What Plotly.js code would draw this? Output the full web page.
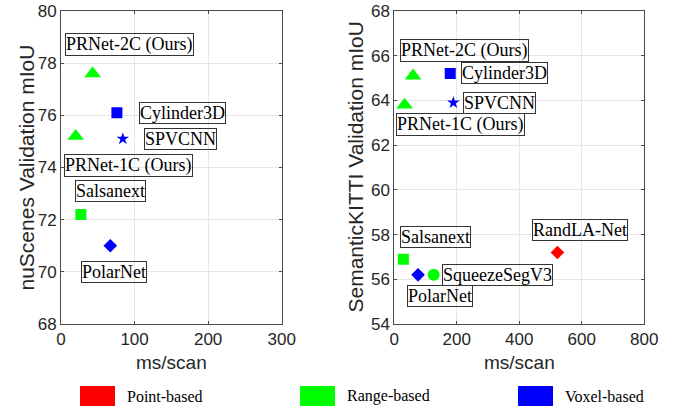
<!DOCTYPE html>
<html><head><meta charset="utf-8">
<script src="https://cdn.plot.ly/plotly-3.0.1.min.js"></script>
<style>html,body{margin:0;padding:0;background:#fff}#chart{width:674px;height:406px}</style>
</head><body><div id="chart"></div>
<script>
// ---- data ----
const categories = ['Point-based', 'Range-based', 'Voxel-based'];

const nusMethods = ['PRNet-2C (Ours)', 'Cylinder3D', 'PRNet-1C (Ours)', 'SPVCNN', 'Salsanext', 'PolarNet'];
const nusMs      = [43, 76, 20, 84, 27, 67];
const nusMiou    = [77.6, 76.1, 75.2, 75.1, 72.2, 71.0];
const nusCat     = ['Range-based', 'Voxel-based', 'Range-based', 'Voxel-based', 'Range-based', 'Voxel-based'];

const kitMethods = ['PRNet-2C (Ours)', 'Cylinder3D', 'PRNet-1C (Ours)', 'SPVCNN', 'Salsanext', 'PolarNet', 'SqueezeSegV3', 'RandLA-Net'];
const kitMs      = [60, 179, 33, 189, 29, 76, 126, 522];
const kitMiou    = [65.1, 65.2, 63.8, 63.9, 56.9, 56.2, 56.2, 57.2];
const kitCat     = ['Range-based', 'Voxel-based', 'Range-based', 'Voxel-based', 'Range-based', 'Voxel-based', 'Range-based', 'Point-based'];

const nusXTicks = [0, 100, 200, 300];
const nusYTicks = [68, 70, 72, 74, 76, 78, 80];
const kitXTicks = [0, 200, 400, 600, 800];
const kitYTicks = [54, 56, 58, 60, 62, 64, 66, 68];

// ---- styles (not data) ----
const catColor = {'Point-based': '#ff0000', 'Range-based': '#00ff00', 'Voxel-based': '#0000ff'};
const methodSymbol = {
  'PRNet-2C (Ours)': 'triangle-up', 'PRNet-1C (Ours)': 'triangle-up',
  'Cylinder3D': 'square', 'Salsanext': 'square', 'SPVCNN': 'star',
  'PolarNet': 'diamond', 'RandLA-Net': 'diamond', 'SqueezeSegV3': 'circle'
};
const symbolSize = {'triangle-up': 14.5, 'square': 11, 'star': 9.5, 'diamond': 10.5, 'circle': 12};
// label offsets in pixels (dx right, dy up) from each point
const nusLabelDx = [37, 66, 53, 58, 30, 4];
const nusLabelDy = [29, 0, -29, 0, 23, -26];
const kitLabelDx = [51, 54, 56, 46, 32, 22, 64, 23];
const kitLabelDy = [25, 1, -20, 0, 22, -21, 0, 22];

const W = 674, H = 406;
const tickFont = {family: 'Liberation Sans, Arial, sans-serif', size: 17, color: '#262626'};
const serif = 'Liberation Serif, Times New Roman, serif';

function makeTrace(methods, xs, ys, cats, xa, ya) {
  const syms = methods.map(m => methodSymbol[m]);
  return {
    type: 'scatter', mode: 'markers', x: xs, y: ys, xaxis: xa, yaxis: ya,
    text: methods, hoverinfo: 'text+x+y', showlegend: false, opacity: 1,
    marker: {symbol: syms, size: syms.map(s => symbolSize[s]), color: cats.map(c => catColor[c]), opacity: 1, line: {width: 0}}
  };
}

function labels(methods, xs, ys, dx, dy, xr, yr) {
  return methods.map((m, i) => ({
    text: m, x: xs[i], y: ys[i], xref: xr, yref: yr, showarrow: false,
    xanchor: 'center', yanchor: 'middle', xshift: dx[i], yshift: dy[i],
    font: {family: serif, size: 18, color: '#000'},
    bordercolor: '#333333', borderwidth: 1, borderpad: 0, bgcolor: 'rgba(0,0,0,0)'
  }));
}

function axis(domain, range, ticks, anchor) {
  return {
    domain: domain, range: range, anchor: anchor, tickvals: ticks, ticktext: ticks.map(String),
    showgrid: true, gridcolor: '#e6e6e6', gridwidth: 1, zeroline: false,
    showline: true, linecolor: '#4a4a4a', linewidth: 1, mirror: 'allticks',
    ticks: 'inside', ticklen: 3, tickcolor: '#4a4a4a', tickfont: tickFont, automargin: false, fixedrange: true
  };
}

const yDom = [1 - 324 / H, 1 - 11 / H];
const layout = {
  width: W, height: H, margin: {l: 0, r: 0, t: 0, b: 0},
  paper_bgcolor: '#fff', plot_bgcolor: '#fff', showlegend: false,
  xaxis: axis([61 / W, 281.7 / W], [0, 300], nusXTicks, 'y'),
  yaxis: axis(yDom, [68, 80], nusYTicks, 'x'),
  xaxis2: axis([394.3 / W, 644.3 / W], [0, 800], kitXTicks, 'y2'),
  yaxis2: axis(yDom, [54, 68], kitYTicks, 'x2'),
  annotations: [], shapes: []
};

const titleFont = {family: 'Liberation Sans, Arial, sans-serif', size: 19, color: '#262626'};
layout.annotations.push(
  {text: 'ms/scan', xref: 'paper', yref: 'paper', x: 171 / W, y: 1 - 362 / H, showarrow: false, xanchor: 'center', yanchor: 'middle', font: titleFont},
  {text: 'ms/scan', xref: 'paper', yref: 'paper', x: 519 / W, y: 1 - 362 / H, showarrow: false, xanchor: 'center', yanchor: 'middle', font: titleFont},
  {text: 'nuScenes Validation mIoU', xref: 'paper', yref: 'paper', x: 26 / W, y: 1 - 167.5 / H, textangle: -90, showarrow: false, xanchor: 'center', yanchor: 'middle', font: Object.assign({}, titleFont, {size: 21})},
  {text: 'SemanticKITTI Validation mIoU', xref: 'paper', yref: 'paper', x: 355 / W, y: 1 - 167.5 / H, textangle: -90, showarrow: false, xanchor: 'center', yanchor: 'middle', font: Object.assign({}, titleFont, {size: 21})}
);
layout.annotations.push(...labels(nusMethods, nusMs, nusMiou, nusLabelDx, nusLabelDy, 'x', 'y'));
layout.annotations.push(...labels(kitMethods, kitMs, kitMiou, kitLabelDx, kitLabelDy, 'x2', 'y2'));

// bottom category key
const keyBoxX = [80, 300, 518];
categories.forEach((c, i) => {
  layout.shapes.push({type: 'rect', xref: 'paper', yref: 'paper', x0: keyBoxX[i] / W, x1: (keyBoxX[i] + 35) / W, y0: 0, y1: 20 / H, fillcolor: catColor[c], line: {width: 0}});
  layout.annotations.push({text: c, xref: 'paper', yref: 'paper', x: (keyBoxX[i] + 45) / W, y: 1 - 396 / H, xanchor: 'left', yanchor: 'middle', showarrow: false, font: {family: serif, size: 16, color: '#000'}});
});

Plotly.newPlot('chart', [
  makeTrace(nusMethods, nusMs, nusMiou, nusCat, 'x', 'y'),
  makeTrace(kitMethods, kitMs, kitMiou, kitCat, 'x2', 'y2')
], layout, {displayModeBar: false, staticPlot: true});
</script>
</body></html>
